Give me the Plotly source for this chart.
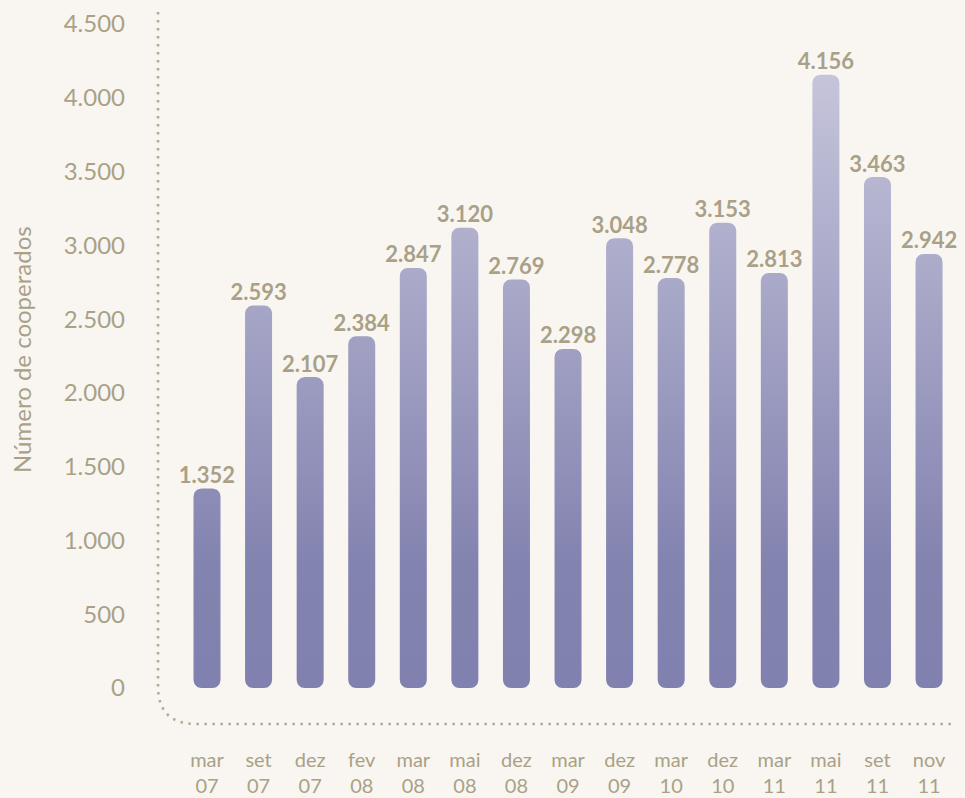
import plotly.graph_objects as go
import numpy as np

months = ["mar", "set", "dez", "fev", "mar", "mai", "dez", "mar", "dez", "mar", "dez", "mar", "mai", "set", "nov"]
years = ["07", "07", "07", "08", "08", "08", "08", "09", "09", "10", "10", "11", "11", "11", "11"]
cooperados = [1352, 2593, 2107, 2384, 2847, 3120, 2769, 2298, 3048, 2778, 3153, 2813, 4156, 3463, 2942]
y_ticks = [0, 500, 1000, 1500, 2000, 2500, 3000, 3500, 4000, 4500]

BG = "#f9f6f1"
TXT = "#a9a187"
FONT = "Lato"

W, H = 965, 798
ML, MR, MT, MB = 158, 5, 10, 70
plot_w = W - ML - MR
plot_h = H - MT - MB
x_range = [-0.95, 14.6]
y_range = [-271, 4595]
px_per_x = plot_w / (x_range[1] - x_range[0])
px_per_y = plot_h / (y_range[1] - y_range[0])

bar_w_px = 27
rad_px = 8
bw = bar_w_px / px_per_x
rx = rad_px / px_per_x
ry = rad_px / px_per_y

xs, ys = [], []
t = np.linspace(0, np.pi / 2, 9)
for i, v in enumerate(cooperados):
    x0, x1 = i - bw / 2, i + bw / 2
    y0, y1 = 0, v
    for a in t:
        xs.append(x0 + rx - rx * np.cos(a)); ys.append(y0 + ry - ry * np.sin(a))
    for a in t:
        xs.append(x1 - rx + rx * np.sin(a)); ys.append(y0 + ry - ry * np.cos(a))
    for a in t:
        xs.append(x1 - rx + rx * np.cos(a)); ys.append(y1 - ry + ry * np.sin(a))
    for a in t:
        xs.append(x0 + rx - rx * np.sin(a)); ys.append(y1 - ry + ry * np.cos(a))
    xs.append(None); ys.append(None)

fig = go.Figure()
fig.add_trace(go.Scatter(
    x=xs, y=ys, mode="lines", fill="toself",
    line=dict(width=0, color="rgba(0,0,0,0)"),
    fillcolor="#9a99c2",
    fillgradient=dict(type="vertical", start=0, stop=4200,
                      colorscale=[[0, "#8181af"], [0.2, "#8383b0"], [1, "#c6c5db"]]),
    hoverinfo="skip", showlegend=False,
))
fig.add_trace(go.Scatter(
    x=list(range(len(cooperados))), y=cooperados, mode="text",
    text=[f"{v:,}".replace(",", ".") for v in cooperados],
    textposition="top center",
    textfont=dict(family=FONT, size=22, color=TXT, weight="bold"),
    showlegend=False, hoverinfo="skip",
))

def px2paper_x(px):
    return (px - ML) / plot_w

def px2paper_y(py):
    return (H - MB - py) / plot_h

# dotted axis with rounded corner
xl, yt, yb, xr = 158, 12, 724, 952
cr = 38
path = (f"M {px2paper_x(xl)},{px2paper_y(yt)} L {px2paper_x(xl)},{px2paper_y(yb - cr)} "
        f"Q {px2paper_x(xl)},{px2paper_y(yb)} {px2paper_x(xl + cr)},{px2paper_y(yb)} "
        f"L {px2paper_x(xr)},{px2paper_y(yb)}")
fig.add_shape(type="path", path=path, xref="paper", yref="paper",
              line=dict(color="#b3ab95", width=2.6, dash="2.5px,5.5px"))

fig.add_annotation(x=px2paper_x(22), y=px2paper_y(350), xref="paper", yref="paper",
                   text="Número de cooperados", textangle=-90, showarrow=False,
                   xanchor="center", yanchor="middle",
                   font=dict(family=FONT, size=24, color=TXT))

tick_text = [f"{m}<br>{y}" for m, y in zip(months, years)]

fig.update_layout(
    width=W, height=H,
    margin=dict(l=ML, r=MR, t=MT, b=MB, autoexpand=False),
    paper_bgcolor=BG, plot_bgcolor=BG,
    separators=",.",
    xaxis=dict(range=x_range, tickvals=list(range(len(months))), ticktext=tick_text,
               showgrid=False, zeroline=False, showline=False, ticks="", automargin=False,
               tickfont=dict(family=FONT, size=20, color=TXT), ticklabelstandoff=18),
    yaxis=dict(range=y_range, tickvals=y_ticks, tickformat=",", automargin=False,
               showgrid=False, zeroline=False, showline=False, ticks="",
               tickfont=dict(family=FONT, size=24, color=TXT), ticklabelstandoff=32),
)

fig.write_html("out.html", config={"displayModeBar": False},
               post_script="document.body.style.margin='0';")
